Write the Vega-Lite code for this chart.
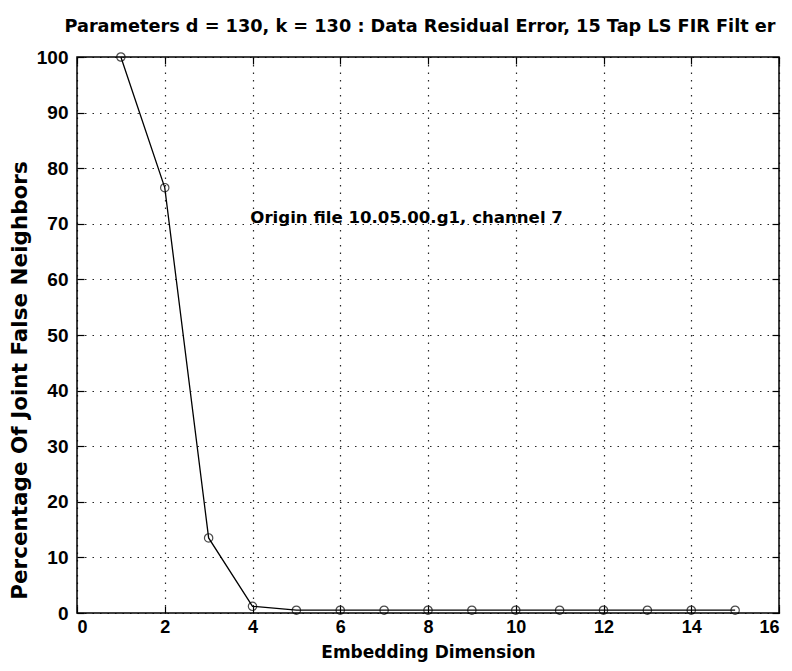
{
  "$schema": "https://vega.github.io/schema/vega-lite/v6.json",
  "width": 702,
  "height": 556,
  "autosize": "none",
  "padding": {"left": 77, "top": 57, "right": 13, "bottom": 58},
  "background": "white",
  "config": {
    "font": "Liberation Sans",
    "view": {"stroke": "black", "strokeWidth": 1.5},
    "axis": {
      "labelFont": "Liberation Sans", "titleFont": "DejaVu Sans",
      "labelColor": "black", "titleColor": "black",
      "domain": false, "tickColor": "black", "tickSize": -7, "tickWidth": 1.2,
      "grid": true, "gridColor": "black", "gridDash": [1.5, 6], "gridWidth": 1.2, "gridOpacity": 0.85,
      "labelFontSize": 19, "labelFontWeight": "bold", "titleFontWeight": "bold"
    }
  },
  "title": {"text": "Parameters d = 130, k = 130 : Data Residual Error, 15 Tap LS FIR Filt er", "fontSize": 17.7, "fontWeight": "bold", "font": "DejaVu Sans", "color": "black", "offset": 12, "dx": -8},
  "datasets": {
    "pts": [
      {"dim": 1, "pct": 100},
      {"dim": 2, "pct": 76.5},
      {"dim": 3, "pct": 13.5},
      {"dim": 4, "pct": 1.2},
      {"dim": 5, "pct": 0.5},
      {"dim": 6, "pct": 0.5},
      {"dim": 7, "pct": 0.5},
      {"dim": 8, "pct": 0.5},
      {"dim": 9, "pct": 0.5},
      {"dim": 10, "pct": 0.5},
      {"dim": 11, "pct": 0.5},
      {"dim": 12, "pct": 0.5},
      {"dim": 13, "pct": 0.5},
      {"dim": 14, "pct": 0.5},
      {"dim": 15, "pct": 0.5}
    ],
    "note": [{"dim": 3.95, "pct": 71, "label": "Origin file 10.05.00.g1, channel 7"}]
  },
  "resolve": {"axis": {"x": "independent", "y": "independent"}},
  "layer": [
    {
      "data": {"name": "pts"},
      "mark": {"type": "line", "color": "black", "strokeWidth": 1.3},
      "encoding": {
        "x": {"field": "dim", "type": "quantitative", "scale": {"domain": [0, 16], "nice": false}, "axis": {"values": [0, 2, 4, 6, 8, 10, 12, 14, 16], "title": "Embedding Dimension", "titleFontSize": 17, "labelFontSize": 18, "labelPadding": 12, "titlePadding": 8}},
        "y": {"field": "pct", "type": "quantitative", "scale": {"domain": [0, 100], "nice": false}, "axis": {"values": [0, 10, 20, 30, 40, 50, 60, 70, 80, 90, 100], "title": "Percentage Of Joint False Neighbors", "titleFontSize": 21.5, "labelPadding": 16, "titlePadding": 5, "titleY": 323}}
      }
    },
    {
      "data": {"name": "pts"},
      "mark": {"type": "point", "shape": "circle", "filled": false, "color": "black", "size": 70, "strokeWidth": 1.2},
      "encoding": {
        "x": {"field": "dim", "type": "quantitative", "axis": {"orient": "top", "values": [0, 2, 4, 6, 8, 10, 12, 14, 16], "labels": false, "grid": false, "title": null}},
        "y": {"field": "pct", "type": "quantitative", "axis": {"orient": "right", "values": [0, 10, 20, 30, 40, 50, 60, 70, 80, 90, 100], "labels": false, "grid": false, "title": null}}
      }
    },
    {
      "data": {"name": "note"},
      "mark": {"type": "text", "align": "left", "baseline": "middle", "fontSize": 16.6, "fontWeight": "bold", "color": "black", "font": "DejaVu Sans"},
      "encoding": {
        "x": {"field": "dim", "type": "quantitative", "axis": null},
        "y": {"field": "pct", "type": "quantitative", "axis": null},
        "text": {"field": "label"}
      }
    }
  ]
}
